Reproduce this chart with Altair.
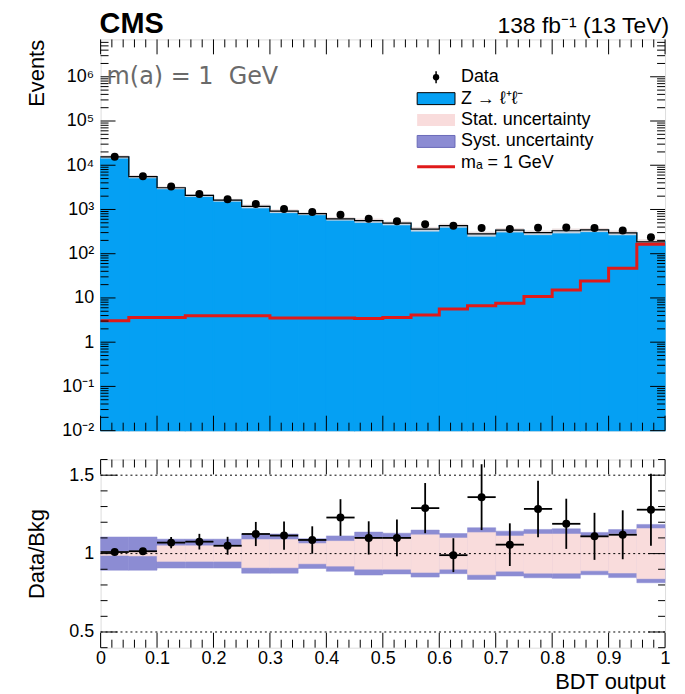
import altair as alt
import pandas as pd

# ---------------- data ----------------
bin_lo = [0.00, 0.05, 0.10, 0.15, 0.20, 0.25, 0.30, 0.35, 0.40, 0.45,
          0.50, 0.55, 0.60, 0.65, 0.70, 0.75, 0.80, 0.85, 0.90, 0.95]
bin_hi = [0.05, 0.10, 0.15, 0.20, 0.25, 0.30, 0.35, 0.40, 0.45, 0.50,
          0.55, 0.60, 0.65, 0.70, 0.75, 0.80, 0.85, 0.90, 0.95, 1.00]
bkg = [15500, 5550, 3100, 2080, 1620, 1180, 920, 805, 615, 560,
       490, 360, 432, 280, 342, 300, 330, 345, 297, 185]
data_counts = [15650, 5630, 3320, 2240, 1700, 1330, 1025, 875, 756, 616,
               539, 464, 428, 381, 361, 386, 393, 383, 333, 237]
signal = [3.05, 3.63, 3.63, 3.95, 3.95, 3.95, 3.5, 3.5, 3.5, 3.43,
          3.6, 4.1, 5.6, 6.7, 7.6, 10.8, 15.2, 24.3, 46.7, 163]
ratio = [1.01, 1.015, 1.07, 1.076, 1.05, 1.125, 1.115, 1.087, 1.23, 1.10,
         1.10, 1.29, 0.99, 1.36, 1.057, 1.285, 1.19, 1.11, 1.12, 1.28]
ratio_err = [0.01, 0.015, 0.036, 0.05, 0.057, 0.077, 0.09, 0.087, 0.117, 0.106,
             0.117, 0.16, 0.108, 0.21, 0.136, 0.18, 0.16, 0.15, 0.156, 0.23]
tot_unc = [0.106, 0.106, 0.092, 0.092, 0.092, 0.125, 0.125, 0.095, 0.113, 0.137,
           0.13, 0.15, 0.128, 0.165, 0.143, 0.154, 0.158, 0.135, 0.153, 0.186]
stat_unc = [0.012, 0.015, 0.05, 0.05, 0.05, 0.09, 0.09, 0.065, 0.08, 0.1,
            0.1, 0.12, 0.1, 0.135, 0.113, 0.125, 0.125, 0.11, 0.124, 0.16]

legend_labels = ["Data", "Z \u2192 \u2113\u207a\u2113\u207b", "Stat. uncertainty",
                 "Syst. uncertainty", "m\u2090 = 1 GeV"]
x_tick_labels = [0, 0.1, 0.2, 0.3, 0.4, 0.5, 0.6, 0.7, 0.8, 0.9, 1.0]
y_decades = [0.01, 0.1, 1, 10, 100, 1e3, 1e4, 1e5, 1e6]
ratio_labels = [0.5, 1.0, 1.5]

# ---------------- styling ----------------
W, H1, H2 = 567, 393, 189
FONT = "Liberation Sans"
BLUE = "#05a0f3"
RED = "#e01a1a"
PINK = "#f9dcdc"
SYST = "#8c8cd3"
MAJ, MIN = 15, 8

df = pd.DataFrame(dict(lo=bin_lo, hi=bin_hi, bkg=bkg, data=data_counts, sig=signal,
                       ratio=ratio, rerr=ratio_err, tot=tot_unc, stat=stat_unc))
df["mid"] = (df.lo + df.hi) / 2
df["floor"] = 0.01
df["b_lo"] = df.bkg * (1 - df.tot * 0.8)
df["b_hi"] = df.bkg * (1 + df.tot * 0.8)
df["r_lo"] = df.ratio - df.rerr
df["r_hi"] = df.ratio + df.rerr
df["t_lo"] = 1 - df.tot
df["t_hi"] = 1 + df.tot
df["s_lo"] = 1 - df.stat
df["s_hi"] = 1 + df.stat

step = pd.DataFrame(dict(x=bin_lo + [1.0], bkg=bkg + [bkg[-1]], sig=signal + [signal[-1]]))

x_major = x_tick_labels
x_minor = [round(i * 0.02, 2) for i in range(51) if i % 5 != 0]
y_minor = [m * d for d in y_decades for m in range(2, 10) if m * d < 7e6]
r_minor = [round(0.4 + i * 0.1, 1) for i in range(13)]
r_minor = [v for v in r_minor if v not in (0.5, 1.0, 1.5)]

xsc = alt.Scale(domain=[0, 1], nice=False, zero=False)
ysc = alt.Scale(type="log", domain=[0.01, 7e6], nice=False)
rsc = alt.Scale(domain=[0.4, 1.6], nice=False, zero=False)

label_expr = ("datum.value < 0.05 ? '10\u207b\u00b2' : datum.value < 0.5 ? '10\u207b\u00b9' : "
              "datum.value < 5 ? '1' : datum.value < 50 ? '10' : datum.value < 500 ? '10\u00b2' : "
              "datum.value < 5000 ? '10\u00b3' : datum.value < 50000 ? '10\u2074' : "
              "datum.value < 500000 ? '10\u2075' : '10\u2076'")

yaxis_up = alt.Axis(values=y_decades, labelExpr=label_expr, ticks=False, tickSize=0, domain=False,
                    grid=False, labelFont=FONT, labelFontSize=18, labelPadding=7, labelColor="black",
                    title="Events", titleFont=FONT, titleFontSize=22, titleFontWeight="normal",
                    titleColor="black", titleAnchor="end", titleAlign="right", titleX=-52, titleY=0,
                    labelOverlap=False)
yaxis_r = alt.Axis(values=ratio_labels, format="~g", ticks=False, tickSize=0, domain=False,
                   grid=False, labelFont=FONT, labelFontSize=18, labelPadding=7, labelColor="black",
                   title="Data/Bkg", titleFont=FONT, titleFontSize=22, titleFontWeight="normal",
                   titleColor="black", titleX=-52)
xaxis_r = alt.Axis(values=x_major, format="~g", ticks=False, tickSize=0, domain=False, grid=False,
                   labelFont=FONT, labelFontSize=18, labelPadding=2, labelColor="black",
                   labelFlush=False, labelOverlap=False,
                   title="BDT output", titleFont=FONT, titleFontSize=22, titleFontWeight="normal",
                   titleColor="black", titleAnchor="end", titlePadding=4)


def X(f):
    return alt.X(f, type="quantitative", scale=xsc, axis=None)


def XR(f):
    return alt.X(f, type="quantitative", scale=xsc, axis=xaxis_r)


def Y(f):
    return alt.Y(f, type="quantitative", scale=ysc, axis=yaxis_up)


def YR(f):
    return alt.Y(f, type="quantitative", scale=rsc, axis=yaxis_r)


base = alt.Chart(df)

# ---------------- upper panel ----------------
fill = base.mark_rect(color=BLUE, stroke=BLUE, strokeWidth=1.2).encode(
    x=X("lo"), x2="hi", y=Y("floor"), y2="bkg")
band = base.mark_rect(color="#e9dcdc", opacity=0.85).encode(x=X("lo"), x2="hi", y=Y("b_lo"), y2="b_hi")
outline = alt.Chart(step).mark_line(color="black", strokeWidth=1.2, interpolate="step-after").encode(
    x=X("x"), y=Y("bkg"))
sigline = alt.Chart(step).mark_line(color=RED, strokeWidth=3, interpolate="step-after").encode(
    x=X("x"), y=Y("sig"))
pts = base.mark_circle(color="black", opacity=1, size=64).encode(x=X("mid"), y=Y("data"))


def xticks(vals, length, height, scale_fn):
    d = alt.Chart(pd.DataFrame({"v": vals}))
    top = d.mark_rule(color="black", strokeWidth=1).encode(
        x=scale_fn("v"), y=alt.value(0), y2=alt.value(length))
    bot = d.mark_rule(color="black", strokeWidth=1).encode(
        x=scale_fn("v"), y=alt.value(height), y2=alt.value(height - length))
    return [top, bot]


def yticks(vals, length, scale_fn):
    d = alt.Chart(pd.DataFrame({"v": vals}))
    left = d.mark_rule(color="black", strokeWidth=1).encode(
        y=scale_fn("v"), x=alt.value(0), x2=alt.value(length))
    right = d.mark_rule(color="black", strokeWidth=1).encode(
        y=scale_fn("v"), x=alt.value(W), x2=alt.value(W - length))
    return [left, right]


one = alt.Chart(pd.DataFrame({"a": [0]}))
LX0, LX1, LT = 318, 356, 362
rows = [38, 59.5, 81, 102.5, 124]

leg = []
leg.append(one.mark_rule(color="black", strokeWidth=1.5).encode(
    x=alt.value((LX0 + LX1) / 2), y=alt.value(rows[0] - 6), y2=alt.value(rows[0] + 6)))
leg.append(one.mark_circle(color="black", opacity=1, size=40).encode(
    x=alt.value((LX0 + LX1) / 2), y=alt.value(rows[0])))
leg.append(one.mark_rect(color=BLUE, stroke="black", strokeWidth=1).encode(
    x=alt.value(LX0), x2=alt.value(LX1), y=alt.value(rows[1] - 6), y2=alt.value(rows[1] + 6)))
leg.append(one.mark_rect(color=PINK).encode(
    x=alt.value(LX0), x2=alt.value(LX1), y=alt.value(rows[2] - 6), y2=alt.value(rows[2] + 6)))
leg.append(one.mark_rect(color=SYST, stroke="#6a6ab8", strokeWidth=1).encode(
    x=alt.value(LX0), x2=alt.value(LX1), y=alt.value(rows[3] - 6), y2=alt.value(rows[3] + 6)))
leg.append(one.mark_rule(color=RED, strokeWidth=3).encode(
    x=alt.value(LX0), x2=alt.value(LX1), y=alt.value(rows[4] + 4)))
for lab, ry in zip(legend_labels, rows):
    leg.append(one.mark_text(text=lab, font=FONT, fontSize=18, align="left", baseline="middle",
                             color="black").encode(x=alt.value(LT), y=alt.value(ry)))

texts = [
    one.mark_text(text="CMS", font=FONT, fontSize=29, fontWeight="bold", align="left",
                  baseline="alphabetic", color="black").encode(x=alt.value(-1), y=alt.value(-6)),
    one.mark_text(text="138 fb\u207b\u00b9 (13 TeV)", font=FONT, fontSize=23, align="right",
                  baseline="alphabetic", color="black").encode(x=alt.value(571), y=alt.value(-6)),
    one.mark_text(text="m(a) = 1\u00a0\u00a0GeV", font="DejaVu Sans", fontSize=24, align="left",
                  baseline="middle", color="#6a6a6a").encode(x=alt.value(6), y=alt.value(38)),
]

upper = alt.layer(
    fill, band, outline, sigline, pts,
    *xticks(x_major, MAJ, H1, X), *xticks(x_minor, MIN, H1, X),
    *yticks(y_decades, MAJ, Y), *yticks(y_minor, MIN, Y),
    *leg, *texts,
).properties(width=W, height=H1)

# ---------------- ratio panel ----------------
tband = base.mark_rect(color=SYST, stroke=SYST, strokeWidth=0.5).encode(
    x=XR("lo"), x2="hi", y=YR("t_lo"), y2="t_hi")
sband = base.mark_rect(color=PINK, stroke=PINK, strokeWidth=0.5).encode(
    x=XR("lo"), x2="hi", y=YR("s_lo"), y2="s_hi")
grid = alt.Chart(pd.DataFrame({"v": ratio_labels})).mark_rule(
    color="black", strokeWidth=1, strokeDash=[2, 3]).encode(
    y=YR("v"), x=alt.value(0), x2=alt.value(W))
verr = base.mark_rule(color="black", strokeWidth=1.8).encode(x=XR("mid"), y=YR("r_lo"), y2="r_hi")
herr = base.mark_rule(color="black", strokeWidth=1.8).encode(x=XR("lo"), x2="hi", y=YR("ratio"))
rpts = base.mark_circle(color="black", opacity=1, size=64).encode(x=XR("mid"), y=YR("ratio"))

lower = alt.layer(
    tband, sband, grid, verr, herr, rpts,
    *xticks(x_major, MAJ, H2, XR), *xticks(x_minor, MIN, H2, XR),
    *yticks(ratio_labels, 17, YR), *yticks(r_minor, 7, YR),
).properties(width=W, height=H2)

chart = alt.vconcat(upper, lower, spacing=18).properties(
    padding={"left": 17, "top": 0, "right": 5, "bottom": 0}
).configure_view(stroke="black", strokeWidth=1).configure(font=FONT)

chart.save("out.html", embed_options={"renderer": "svg", "actions": False})
